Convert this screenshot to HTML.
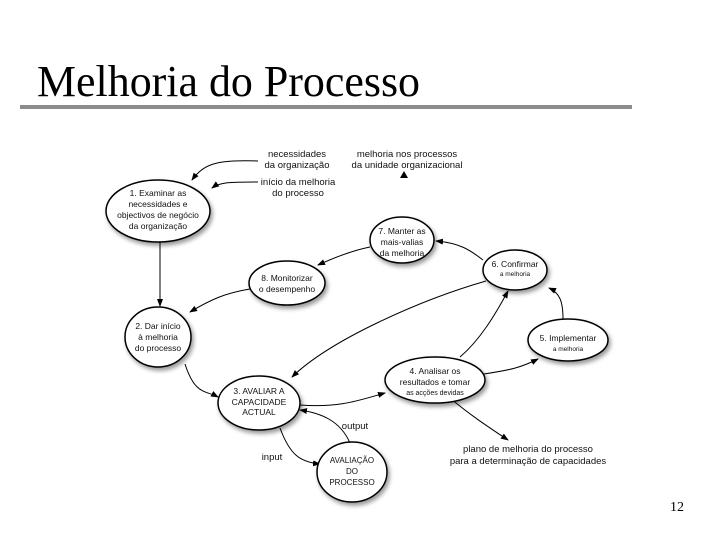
<!DOCTYPE html>
<html><head><meta charset="utf-8"><style>
body{margin:0;background:#fff;}
svg{display:block}
</style></head><body>
<svg width="720" height="540" viewBox="0 0 720 540" xmlns="http://www.w3.org/2000/svg">
<defs>
<marker id="a" markerWidth="8" markerHeight="8" refX="7" refY="4" orient="auto" markerUnits="userSpaceOnUse">
<path d="M0,1 L8,4 L0,7 Z" fill="#000"/></marker>
<filter id="s" x="-20%" y="-20%" width="150%" height="150%"><feDropShadow dx="2" dy="3" stdDeviation="2" flood-opacity="0.4"/></filter>
</defs>
<text x="37" y="96" font-family="Liberation Serif, serif" font-size="44" textLength="383" lengthAdjust="spacingAndGlyphs">Melhoria do Processo</text>
<rect x="20" y="105" width="612" height="4" fill="#8c8c8c"/>
<text x="670" y="511" font-family="Liberation Serif, serif" font-size="14">12</text>

<g fill="none" stroke="#000" stroke-width="1" marker-end="url(#a)">
<path d="M258,161 C220,160 205,162 192,180"/>
<path d="M258,182 C230,182 220,182 212,188"/>
<path d="M160,242 L160,306"/>
<path d="M370,247 C355,250 340,255 318,265"/>
<path d="M250,289 C225,293 210,300 190,312"/>
<path d="M483,260 C470,250 460,243 436,241"/>
<path d="M185,364 C195,395 205,390 218,397"/>
<path d="M300,405 C340,408 360,400 385,393"/>
<path d="M484,374 C510,370 520,368 538,359"/>
<path d="M563,319 C563,302 560,293 549,288"/>
<path d="M460,357 C480,340 495,315 508,291"/>
<path d="M486,281 C420,300 330,340 292,377"/>
<path d="M350,443 C340,420 320,413 300,410"/>
<path d="M280,428 C290,455 300,462 320,464"/>
<path d="M450,398 C470,415 490,428 508,440"/>
</g>
<path d="M400,178 L404,171 L408,178 Z" fill="#000"/>

<g fill="#fff" stroke="#000" stroke-width="1.5" filter="url(#s)">
<ellipse cx="158" cy="211" rx="52" ry="31"/>
<ellipse cx="402" cy="240" rx="32" ry="23"/>
<ellipse cx="287" cy="283" rx="38" ry="22"/>
<ellipse cx="515" cy="270" rx="32" ry="20"/>
<ellipse cx="158" cy="337" rx="33" ry="30"/>
<ellipse cx="568" cy="340" rx="40" ry="21"/>
<ellipse cx="435" cy="380" rx="50" ry="23"/>
<ellipse cx="259" cy="403" rx="41" ry="27"/>
<ellipse cx="352" cy="472" rx="35" ry="30"/>
</g>

<g font-family="Liberation Sans, sans-serif" font-size="8.5" text-anchor="middle" fill="#111">
<text x="158" y="196">1. Examinar as</text>
<text x="158" y="207">necessidades e</text>
<text x="158" y="218">objectivos de negócio</text>
<text x="158" y="229">da organização</text>
<text x="402" y="234">7. Manter as</text>
<text x="402" y="245">mais-valias</text>
<text x="402" y="256">da melhoria</text>
<text x="287" y="281">8. Monitorizar</text>
<text x="287" y="292">o desempenho</text>
<text x="515" y="267">6. Confirmar</text>
<text x="515" y="276" font-size="6.5">a melhoria</text>
<text x="158" y="329">2. Dar início</text>
<text x="158" y="340">à melhoria</text>
<text x="158" y="351">do processo</text>
<text x="568" y="341">5. Implementar</text>
<text x="568" y="351" font-size="6.5">a melhoria</text>
<text x="435" y="374">4. Analisar os</text>
<text x="435" y="385">resultados e tomar</text>
<text x="435" y="395" font-size="7">as acções devidas</text>
<text x="259" y="394">3. AVALIAR A</text>
<text x="259" y="405">CAPACIDADE</text>
<text x="259" y="415">ACTUAL</text>
<text x="352" y="463" font-size="8">AVALIAÇÃO</text>
<text x="352" y="474" font-size="8">DO</text>
<text x="352" y="485" font-size="8">PROCESSO</text>
</g>
<g font-family="Liberation Sans, sans-serif" font-size="9.5" text-anchor="middle" fill="#111">
<text x="297" y="157">necessidades</text>
<text x="297" y="168">da organização</text>
<text x="298" y="185">início da melhoria</text>
<text x="298" y="196">do processo</text>
<text x="407" y="157">melhoria nos processos</text>
<text x="407" y="168">da unidade organizacional</text>
<text x="355" y="429">output</text>
<text x="272" y="460">input</text>
<text x="528" y="452">plano de melhoria do processo</text>
<text x="528" y="464">para a determinação de capacidades</text>
</g>
</svg>
</body></html>
